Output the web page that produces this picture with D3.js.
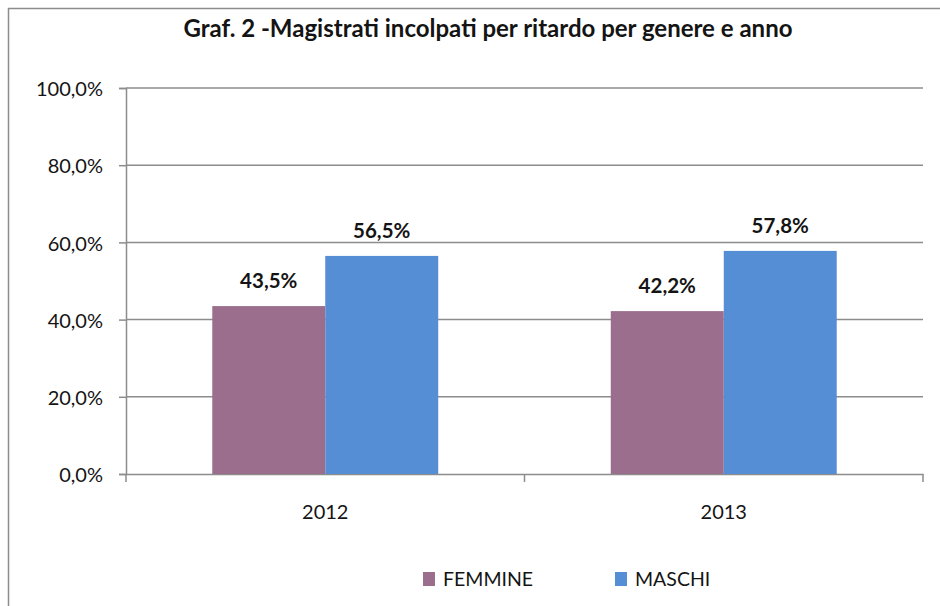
<!DOCTYPE html>
<html>
<head>
<meta charset="utf-8">
<script src="https://cdn.jsdelivr.net/npm/d3@7"></script>
<style>
  body { margin: 0; background: #fff; }
  text { font-family: Lato, "Open Sans", sans-serif; fill: #141414; }
  .axis path, .axis line { stroke: #8c8c8c; }
  .axis text { font-size: 20px; fill: #141414; }
</style>
</head>
<body>
<div class="chart"></div>
<script>
// chart values
let years = ["2012", "2013"];
let seriesNames = ["FEMMINE", "MASCHI"];
let femmine = [43.5, 42.2];
let maschi = [56.5, 57.8];
let yTicks = [0, 20, 40, 60, 80, 100];
let titleText = "Graf. 2 -Magistrati incolpati per ritardo per genere e anno";

let colors = {"FEMMINE": "#9b6e8d", "MASCHI": "#558ed5"};

let chart = {};

let data = years.map((y, i) => {
    return {
        year: y,
        values: [
            {key: "FEMMINE", val: femmine[i]},
            {key: "MASCHI", val: maschi[i]}
        ]
    }
});

chart.margin = {top: 88, right: 17, bottom: 132, left: 126};
chart.width = 940 - chart.margin.left - chart.margin.right;
chart.height = 606 - chart.margin.top - chart.margin.bottom;

chart.svg = d3.select(".chart").append("svg")
    .attr("width", 940)
    .attr("height", 606);

// outer frame (cut off at right and bottom in the reference)
chart.svg.append("rect")
    .attr("x", 8.5).attr("y", 8.5)
    .attr("width", 950).attr("height", 620)
    .attr("fill", "none")
    .attr("stroke", "#8c8c8c")
    .attr("stroke-width", 1.5);

chart.svg.append("text")
    .attr("x", 488).attr("y", 37)
    .attr("text-anchor", "middle")
    .style("font-size", "24px")
    .style("font-weight", "bold")
    .text(titleText);

chart.plot = chart.svg.append("g")
    .attr("transform", `translate(${chart.margin.left},${chart.margin.top})`);

chart.x0 = d3.scaleBand()
    .domain(years)
    .range([0, chart.width])
    .paddingInner(0.433)
    .paddingOuter(0.2165);

chart.x1 = d3.scaleBand()
    .domain(seriesNames)
    .range([0, chart.x0.bandwidth()]);

chart.y = d3.scaleLinear()
    .domain([0, 100])
    .range([chart.height, 0]);

// y axis
chart.yAxis = chart.plot.append("g")
    .attr("class", "axis y-axis")
    .call(d3.axisLeft(chart.y)
        .tickValues(yTicks)
        .tickSize(7)
        .tickPadding(16)
        .tickFormat(d => d3.format(".1f")(d).replace(".", ",") + "%"));

// gridlines
chart.plot.append("g")
    .selectAll("line")
    .data(yTicks.filter(d => d > 0))
    .enter()
    .append("line")
    .attr("x1", 0)
    .attr("x2", chart.width)
    .attr("y1", d => chart.y(d))
    .attr("y2", d => chart.y(d))
    .attr("stroke", "#8c8c8c")
    .attr("stroke-width", 1.5);

chart.yAxis.select(".domain").attr("stroke-width", 1.5);
chart.yAxis.selectAll(".tick line").attr("stroke-width", 1.5);
chart.yAxis.selectAll(".tick text").attr("dy", "0.38em");

// x axis
let step = chart.x0.step();
let xBoundaries = [0, step, 2 * step];

chart.xAxis = chart.plot.append("g")
    .attr("class", "axis x-axis")
    .attr("transform", `translate(0,${chart.height})`)
    .call(d3.axisBottom(chart.x0).tickSize(0).tickPadding(31));

chart.xAxis.select(".domain").attr("stroke-width", 1.5);

chart.xAxis.selectAll(".boundary")
    .data(xBoundaries)
    .enter()
    .append("line")
    .attr("class", "boundary")
    .attr("x1", d => d).attr("x2", d => d)
    .attr("y1", 0).attr("y2", 8)
    .attr("stroke", "#8c8c8c")
    .attr("stroke-width", 1.5);

// bars
chart.groups = chart.plot.selectAll(".year-group")
    .data(data)
    .enter()
    .append("g")
    .attr("class", "year-group")
    .attr("transform", d => `translate(${chart.x0(d.year)},0)`);

chart.groups.selectAll("rect")
    .data(d => d.values)
    .enter()
    .append("rect")
    .attr("x", d => chart.x1(d.key))
    .attr("y", d => chart.y(d.val))
    .attr("width", chart.x1.bandwidth())
    .attr("height", d => chart.height - chart.y(d.val))
    .attr("fill", d => colors[d.key]);

chart.groups.selectAll(".val-label")
    .data(d => d.values)
    .enter()
    .append("text")
    .attr("class", "val-label")
    .attr("x", d => chart.x1(d.key) + chart.x1.bandwidth() / 2)
    .attr("y", d => chart.y(d.val) - 18)
    .attr("text-anchor", "middle")
    .style("font-size", "20.5px")
    .style("font-weight", "bold")
    .text(d => d3.format(".1f")(d.val).replace(".", ",") + "%");

// legend
let legendX = [423, 615];
chart.legend = chart.svg.selectAll(".legend")
    .data(seriesNames)
    .enter()
    .append("g")
    .attr("class", "legend")
    .attr("transform", (d, i) => `translate(${legendX[i]},572)`);

chart.legend.append("rect")
    .attr("width", 12)
    .attr("height", 14)
    .attr("fill", d => colors[d]);

chart.legend.append("text")
    .attr("x", 20)
    .attr("y", 14)
    .style("font-size", "19.5px")
    .text(d => d);
</script>
</body>
</html>
